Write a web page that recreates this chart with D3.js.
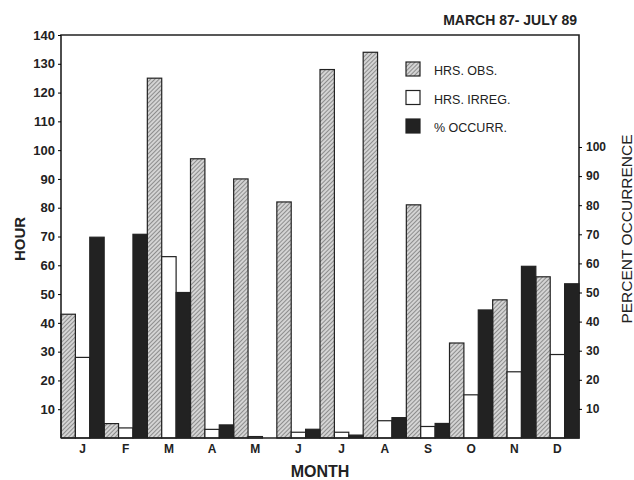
<!DOCTYPE html>
<html>
<head>
<meta charset="utf-8">
<script src="https://cdn.jsdelivr.net/npm/d3@7"></script>
<style>
  body { margin: 0; background: #fff; }
  svg { font-family: "Liberation Sans", Arial, sans-serif; }
</style>
</head>
<body>
<svg width="634" height="480"></svg>
<script>
// chart data
const months = ["J", "F", "M", "A", "M", "J", "J", "A", "S", "O", "N", "D"];
const hrsObs = [43, 5, 125, 97, 90, 82, 128, 134, 81, 33, 48, 56];
const hrsIrreg = [28, 3.5, 63, 3, 0.5, 2, 2, 6, 4, 15, 23, 29];
const pctOccurr = [69, 70, 50, 4.5, 0, 3, 1, 7, 5, 44, 59, 53];
const hourTicks = [10, 20, 30, 40, 50, 60, 70, 80, 90, 100, 110, 120, 130, 140];
const pctTicks = [10, 20, 30, 40, 50, 60, 70, 80, 90, 100];

const svg = d3.select("svg");
const plotLeft = 61, plotRight = 579, plotTop = 35, plotBottom = 438;
const ink = "#222";

const defs = svg.append("defs");
const pat = defs.append("pattern")
  .attr("id", "hatch")
  .attr("patternUnits", "userSpaceOnUse")
  .attr("width", 3)
  .attr("height", 3)
  .attr("patternTransform", "rotate(45)");
pat.append("rect").attr("width", 3).attr("height", 3).attr("fill", "#d4d4d4");
pat.append("line").attr("x1", 0).attr("y1", 0).attr("x2", 0).attr("y2", 3)
  .attr("stroke", "#666").attr("stroke-width", 1.3);

const x = d3.scaleBand().domain(d3.range(12)).range([plotLeft, plotRight]);
const sub = d3.scaleBand().domain([0, 1, 2]).range([0, x.bandwidth()]);
const yHour = d3.scaleLinear().domain([0, 140]).range([plotBottom, plotTop]);
const yPct = d3.scaleLinear().domain([0, 100]).range([plotBottom, 147]);

const bars = [
  { values: hrsObs, scale: yHour, fill: "url(#hatch)" },
  { values: hrsIrreg, scale: yHour, fill: "#fff" },
  { values: pctOccurr, scale: yPct, fill: ink },
];

bars.forEach((s, k) => {
  svg.append("g").selectAll("rect")
    .data(s.values)
    .join("rect")
    .attr("x", (d, i) => x(i) + sub(k))
    .attr("y", d => s.scale(d))
    .attr("width", sub.bandwidth())
    .attr("height", d => plotBottom - s.scale(d))
    .attr("fill", s.fill)
    .attr("stroke", d => d > 0 ? ink : "none")
    .attr("stroke-width", 1.2);
});

// frame: left, top, right sides and baseline
svg.append("path")
  .attr("d", `M${plotLeft},${plotBottom}V${plotTop}H${plotRight}V${plotBottom}H${plotLeft}`)
  .attr("fill", "none")
  .attr("stroke", ink)
  .attr("stroke-width", 1.6);

// left axis (hours)
const yAxisL = svg.append("g")
  .attr("transform", `translate(${plotLeft},0)`)
  .call(d3.axisLeft(yHour).tickValues(hourTicks).tickSize(3).tickPadding(3));
yAxisL.select(".domain").remove();
yAxisL.selectAll("text")
  .attr("font-size", 13).attr("font-weight", "bold").attr("fill", ink)
  .attr("font-family", "Liberation Sans, Arial, sans-serif");

// right axis (percent)
const yAxisR = svg.append("g")
  .attr("transform", `translate(${plotRight},0)`)
  .call(d3.axisRight(yPct).tickValues(pctTicks).tickSize(3).tickPadding(4));
yAxisR.select(".domain").remove();
yAxisR.selectAll("text")
  .attr("font-size", 12).attr("font-weight", "bold").attr("fill", ink)
  .attr("font-family", "Liberation Sans, Arial, sans-serif");

// month labels
const xAxis = svg.append("g")
  .attr("transform", `translate(0,${plotBottom})`)
  .call(d3.axisBottom(x).tickFormat(i => months[i]).tickSize(0).tickPadding(6));
xAxis.select(".domain").remove();
xAxis.selectAll("text")
  .attr("font-size", 12).attr("font-weight", "bold").attr("fill", ink)
  .attr("font-family", "Liberation Sans, Arial, sans-serif");

// axis titles
svg.append("text")
  .attr("x", 320).attr("y", 477)
  .attr("text-anchor", "middle")
  .attr("font-size", 16).attr("font-weight", "bold").attr("fill", ink)
  .text("MONTH");

svg.append("text")
  .attr("transform", "translate(25,239) rotate(-90)")
  .attr("text-anchor", "middle")
  .attr("font-size", 15).attr("font-weight", "bold").attr("fill", ink)
  .text("HOUR");

svg.append("text")
  .attr("transform", "translate(632,229) rotate(-90)")
  .attr("text-anchor", "middle")
  .attr("font-size", 15.5).attr("fill", ink)
  .text("PERCENT OCCURRENCE");

svg.append("text")
  .attr("x", 577).attr("y", 25)
  .attr("text-anchor", "end")
  .attr("font-size", 14).attr("font-weight", "bold").attr("fill", ink)
  .text("MARCH 87- JULY 89");

// legend
const legendItems = [
  { label: "HRS. OBS.", fill: "url(#hatch)" },
  { label: "HRS. IRREG.", fill: "#fff" },
  { label: "% OCCURR.", fill: ink },
];
const legend = svg.append("g").attr("transform", "translate(406,62)");
legendItems.forEach((d, i) => {
  const g = legend.append("g").attr("transform", `translate(0,${i * 28.5})`);
  g.append("rect")
    .attr("width", 14).attr("height", 14)
    .attr("fill", d.fill).attr("stroke", ink).attr("stroke-width", 1.2);
  g.append("text")
    .attr("x", 28).attr("y", 13)
    .attr("font-size", 12.5).attr("fill", ink)
    .text(d.label);
});
</script>
</body>
</html>
